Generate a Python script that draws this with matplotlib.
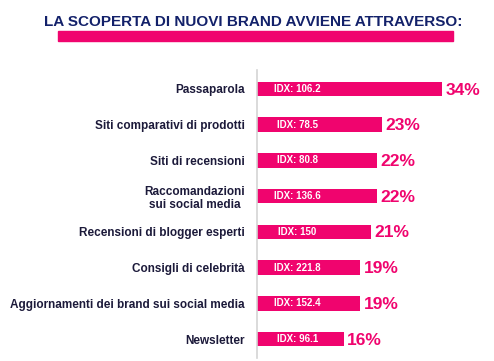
import matplotlib
matplotlib.use("Agg")
import matplotlib.pyplot as plt

categories = [
    "Passaparola",
    "Siti comparativi di prodotti",
    "Siti di recensioni",
    "Raccomandazioni\nsui social media",
    "Recensioni di blogger esperti",
    "Consigli di celebrità",
    "Aggiornamenti dei brand sui social media",
    "Newsletter",
]
values = [34, 23, 22, 22, 21, 19, 19, 16]
idx_labels = ["106.2", "78.5", "80.8", "136.6", "150", "221.8", "152.4", "96.1"]
title = "LA SCOPERTA DI NUOVI BRAND AVVIENE ATTRAVERSO:"

PINK = "#F0046E"
NAVY = "#13216A"
TEXT = "#1C1A3A"
plt.rcParams['font.family'] = ['Liberation Sans', 'DejaVu Sans']

W, H = 494, 361
fig = plt.figure(figsize=(W / 100, H / 100), dpi=100)
left_px, right_px, top_px, bot_px = 257, 494, 70, 358
ax = fig.add_axes([left_px / W, 1 - bot_px / H, (right_px - left_px) / W, (bot_px - top_px) / H])

pos = list(range(len(categories)))
ax.barh(pos, values, height=0.41, color=PINK, left=0)
ax.set_xlim(0, (right_px - left_px) / 5.44)
ax.set_ylim(len(categories) - 0.47, -0.53)

for p, v, idx in zip(pos, values, idx_labels):
    ax.text(7.4, p, f"IDX: {idx}", color="white", fontsize=7, fontweight="bold",
            ha="center", va="center")
    ax.text(v + 0.6, p + 0.03, f"{v}%", color=PINK, fontsize=12.5, fontweight="bold",
            ha="left", va="center")

ax.set_yticks(pos)
ax.set_yticklabels(categories, fontsize=8.5, fontweight="bold", color=TEXT,
                   multialignment="center")
ax.tick_params(axis="y", length=0, pad=8.6)
ax.set_xticks([])
for s in ["top", "right", "bottom"]:
    ax.spines[s].set_visible(False)
ax.spines["left"].set_color("#d4d4d4")
ax.spines["left"].set_linewidth(1.2)

fig.text(253 / W, 1 - 22 / H, title, color=NAVY, fontsize=11, fontweight="bold",
         ha="center", va="center")
fig.patches.append(plt.Rectangle((58 / W, 1 - 41 / H), (453 - 58) / W, 10 / H,
                                 transform=fig.transFigure, color=PINK, figure=fig))

fig.savefig("out.png", dpi=100)
